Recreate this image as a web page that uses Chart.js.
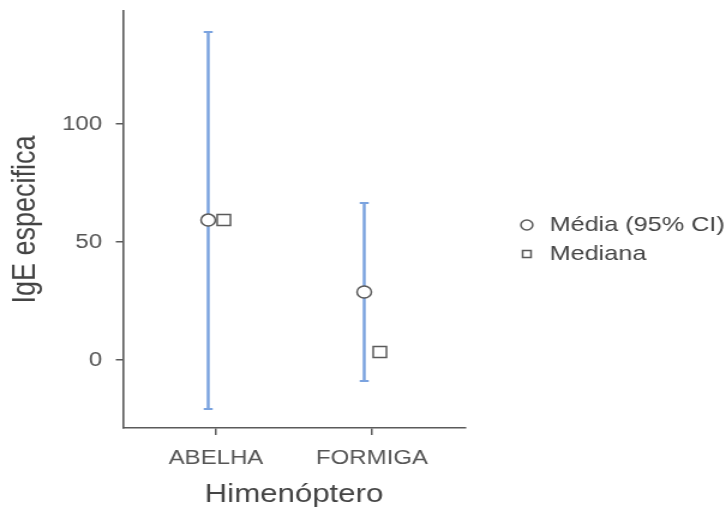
<!DOCTYPE html>
<html>
<head>
<meta charset="utf-8">
<script src="https://cdn.jsdelivr.net/npm/chart.js@4.4.1/dist/chart.umd.min.js"></script>
<style>
  html, body { margin: 0; padding: 0; background: #fff; overflow: hidden; }
  /* the reference picture is a stretched export, so the canvas is widened the same way */
  #wrap { width: 605px; height: 510px; transform: scaleX(1.2); transform-origin: 0 0; }
</style>
</head>
<body>
<div id="wrap"><canvas id="chart" width="605" height="510"></canvas></div>
<script>
// data
const categories = ['ABELHA', 'FORMIGA'];
const meanValues = [59.3, 28.8];
const ciLower = [-20.8, -8.9];
const ciUpper = [139.0, 66.5];
const medianValues = [59.3, 3.4];
const yTicks = [0, 50, 100];

const MEAN_SHIFT = -0.05;   // dodge: mean a bit left of the category tick
const MEDIAN_SHIFT = 0.05;  // median a bit right

const BAR_BLUE = '#7ba3df';
const AXIS_GREY = '#5a5a5a';
const TICK_GREY = '#555555';
const TITLE_GREY = '#444444';

Chart.defaults.font.family = "'Liberation Sans', Arial, sans-serif";

const meanSet = {
    label: 'Média (95% CI)',
    data: categories.map((c, i) => ({ x: i + 1 + MEAN_SHIFT, y: meanValues[i] })),
    pointStyle: 'circle',
    pointRadius: 6,
    backgroundColor: '#ffffff',
    borderColor: AXIS_GREY,
    borderWidth: 1.5,
    order: 0
};

const medianSet = {
    label: 'Mediana',
    data: categories.map((c, i) => ({ x: i + 1 + MEDIAN_SHIFT, y: medianValues[i] })),
    pointStyle: 'rect',
    pointRadius: 7.8,
    backgroundColor: '#ffffff',
    borderColor: AXIS_GREY,
    borderWidth: 1.5,
    order: 1
};

// one vertical segment per category, caps drawn as 'line' points at both ends
const errorBarSets = categories.map((c, i) => ({
    label: 'ci-' + c,
    data: [
        { x: i + 1 + MEAN_SHIFT, y: ciLower[i] },
        { x: i + 1 + MEAN_SHIFT, y: ciUpper[i] }
    ],
    showLine: true,
    borderColor: BAR_BLUE,
    borderWidth: 2.5,
    pointStyle: 'line',
    pointRadius: 3.75,
    pointBorderColor: BAR_BLUE,
    pointBorderWidth: 2,
    order: 2
}));

// tick labels should not push the plot area around
const noLabelOverhang = s => {
    s.paddingTop = 0; s.paddingBottom = 0; s.paddingLeft = 0; s.paddingRight = 0;
};

new Chart(document.getElementById('chart'), {
    type: 'scatter',
    data: { datasets: [meanSet, medianSet, ...errorBarSets] },
    options: {
        responsive: false,
        animation: false,
        events: [],
        layout: { padding: { top: 11, right: 0, bottom: 0, left: 0 } },
        scales: {
            x: {
                type: 'linear', position: 'bottom', min: 0.404, max: 2.596,
                afterBuildTicks: s => { s.ticks = categories.map((c, i) => ({ value: i + 1 })); },
                afterFit: s => { s.height = 82; noLabelOverhang(s); },
                grid: { drawOnChartArea: false, drawTicks: true, tickLength: 7, color: AXIS_GREY, lineWidth: 1.5 },
                border: { display: true, color: AXIS_GREY, width: 1.6 },
                ticks: { padding: 11, color: TICK_GREY, font: { size: 20 }, callback: v => categories[Math.round(v) - 1] },
                title: { display: true, text: 'Himenóptero', color: TITLE_GREY, font: { size: 26 }, padding: 0 }
            },
            y: {
                type: 'linear', position: 'left', min: -28.8, max: 147.9,
                afterBuildTicks: s => { s.ticks = yTicks.map(v => ({ value: v })); },
                afterFit: s => { s.width = 102.5; noLabelOverhang(s); },
                grid: { drawOnChartArea: false, drawTicks: true, tickLength: 6, color: AXIS_GREY, lineWidth: 1.5 },
                border: { display: true, color: AXIS_GREY, width: 1.6 },
                ticks: { padding: 11.5, color: TICK_GREY, font: { size: 20 } },
                title: { display: true, text: 'IgE especifica', color: TITLE_GREY, font: { size: 27 }, padding: { top: 5, bottom: 0 } }
            },
            // empty axis, only keeps the gap between plot and legend
            gap: {
                type: 'linear', axis: 'y', position: 'right', display: true,
                grid: { display: false }, border: { display: false }, ticks: { display: false },
                afterFit: s => { s.width = 35; noLabelOverhang(s); }
            }
        },
        plugins: {
            tooltip: { enabled: false },
            legend: {
                position: 'right', align: 'center', fullSize: false, maxWidth: 182.5,
                title: { display: true, text: '', padding: 0, font: { size: 33.3 } },
                labels: {
                    usePointStyle: true, boxWidth: 17, boxHeight: 7, padding: 8,
                    color: TITLE_GREY, font: { size: 21 },
                    filter: item => item.datasetIndex < 2
                }
            }
        }
    }
});
</script>
</body>
</html>
